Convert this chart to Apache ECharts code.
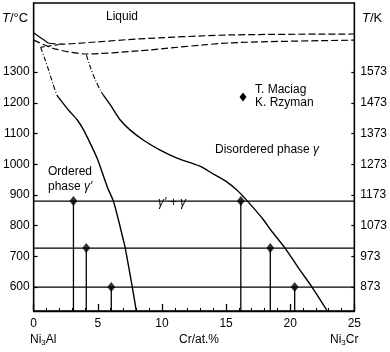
<!DOCTYPE html>
<html><head><meta charset="utf-8">
<script src="https://cdn.jsdelivr.net/npm/echarts@6/dist/echarts.min.js"></script>
<style>html,body{margin:0;padding:0;background:#fff}#c{width:390px;height:352px}</style>
</head><body><div id="c"></div>
<script>
// ---- data (°C on the left axis, K on the right axis) ----
const xTickLabels = [0, 5, 10, 15, 20, 25];
const cTicks = [600, 700, 800, 900, 1000, 1100, 1200, 1300];
const kTicks = [873, 973, 1073, 1173, 1273, 1373, 1473, 1573];
const liquidusSolid = [[0, 1428], [0.6, 1410], [1.16, 1394]];
const liquidusDashed = [[1.16, 1394], [2.17, 1391], [4.81, 1398], [8.15, 1408], [15.3, 1421], [25, 1424]];
const solidusDashed = [[0, 1404], [1.71, 1375], [4.11, 1359], [8.15, 1369], [15.3, 1395], [25, 1404]];
const crossDashed = [[0.54, 1381], [2.2, 1391]];
const leftSolvusDashed = [[0.54, 1381], [0.85, 1345], [1.16, 1307], [1.5, 1262], [1.8, 1225]];
const leftSolvusSolid = [[1.8, 1225], [2.7, 1177], [3.4, 1144], [3.9, 1111], [4.66, 1046], [5.0, 1014], [5.74, 926], [6.21, 880], [6.6, 820], [6.99, 753], [7.14, 727], [7.69, 600], [8.0, 522]];
const rightSolvusDashed = [[4.11, 1355], [4.45, 1312], [4.81, 1274], [5.2, 1240], [5.43, 1225]];
const rightSolvusSolid = [[5.43, 1225], [5.98, 1193], [6.75, 1144], [7.53, 1111], [8.54, 1079], [9.86, 1046], [11.18, 1020], [12.2, 1005], [13.0, 993], [14.13, 965], [15.0, 944], [15.84, 916], [16.6, 883], [17.9, 820], [18.5, 785], [19.6, 727], [20.6, 665], [21.7, 600], [22.9, 522]];
const hLevels = [880, 727, 600];
const orderedPts = [[3.1, 880], [4.1, 727], [6.05, 600]];
const disorderedPts = [[16.15, 880], [18.45, 727], [20.35, 600]];

const YMIN = 522, YMAX = 1525, KOFF = 273;
const FONT = "'Liberation Sans', Arial, sans-serif";
const BLACK = '#000';

const lineSeries = (data, type, width, smooth) => ({
  type: 'line', data, symbol: 'none', smooth: smooth ? 0.25 : false, silent: true,
  lineStyle: { color: BLACK, width: width || 1.3, type: type || 'solid' }, z: 3
});

const series = [
  lineSeries(liquidusSolid, 'solid', 1.2, true),
  lineSeries(liquidusDashed, [7, 3], 1.2, true),
  lineSeries(solidusDashed, [7, 3], 1.2, true),
  lineSeries(crossDashed, [4, 3], 1.1, false),
  lineSeries(leftSolvusDashed, [5, 2, 1, 2], 1.1, true),
  lineSeries(leftSolvusSolid, 'solid', 1.4, true),
  lineSeries(rightSolvusDashed, [5, 2, 1, 2], 1.1, true),
  lineSeries(rightSolvusSolid, 'solid', 1.4, true)
];
hLevels.forEach(v => series.push(lineSeries([[0, v], [25, v]], 'solid', 1.3, false)));
orderedPts.concat(disorderedPts).forEach(p => series.push(lineSeries([[p[0], p[1]], [p[0], YMIN]], 'solid', 1.3, false)));
series.push({
  type: 'scatter', data: orderedPts.concat(disorderedPts), symbol: 'diamond', symbolSize: [8, 10],
  itemStyle: { color: BLACK }, z: 5, silent: true
});

const chart = echarts.init(document.getElementById('c'), null, { renderer: 'canvas' });
chart.setOption({
  animation: false,
  backgroundColor: '#fff',
  grid: { left: 33, right: 35, top: 3, bottom: 41, show: true, borderColor: BLACK, borderWidth: 1.3 },
  xAxis: {
    type: 'value', min: 0, max: 25, interval: 5,
    axisLine: { lineStyle: { color: BLACK, width: 1.3 } },
    axisTick: { show: true, inside: true, length: 7, lineStyle: { color: BLACK, width: 1.3 } },
    minorTick: { show: true, splitNumber: 5, length: 3, lineStyle: { color: BLACK, width: 1 } },
    splitLine: { show: false },
    axisLabel: { color: BLACK, fontSize: 12, fontFamily: FONT, margin: 7,
      formatter: v => xTickLabels.includes(v) ? String(v) : '' }
  },
  yAxis: [{
    type: 'value', min: YMIN, max: YMAX, position: 'left',
    axisLine: { show: true, lineStyle: { color: BLACK, width: 1.3 } },
    axisTick: { show: true, inside: true, length: 4, customValues: cTicks, lineStyle: { color: BLACK, width: 1.2 } },
    axisLabel: { color: BLACK, fontSize: 12, fontFamily: FONT, margin: 4, customValues: cTicks, formatter: v => String(v) },
    splitLine: { show: false }
  }, {
    type: 'value', min: YMIN + KOFF, max: YMAX + KOFF, position: 'right',
    axisLine: { show: true, lineStyle: { color: BLACK, width: 1.3 } },
    axisTick: { show: true, inside: true, length: 3, customValues: kTicks, lineStyle: { color: BLACK, width: 1.2 } },
    axisLabel: { color: BLACK, fontSize: 12, fontFamily: FONT, margin: 6, customValues: kTicks, formatter: v => String(v) },
    splitLine: { show: false }
  }],
  series,
  graphic: [
    { type: 'text', x: 2, y: 18, style: { text: '{i|T}/°C', fontSize: 13, fontFamily: FONT, fill: BLACK, verticalAlign: 'middle',
      rich: { i: { fontStyle: 'italic', fontSize: 13, fontFamily: FONT } } } },
    { type: 'text', x: 362, y: 18, style: { text: '{i|T}/K', fontSize: 13, fontFamily: FONT, fill: BLACK, verticalAlign: 'middle',
      rich: { i: { fontStyle: 'italic', fontSize: 13, fontFamily: FONT } } } },
    { type: 'text', x: 122, y: 17, style: { text: 'Liquid', fontSize: 12, fontFamily: FONT, fill: BLACK, align: 'center', verticalAlign: 'middle' } },
    { type: 'text', x: 48, y: 172, style: { text: 'Ordered', fontSize: 12, fontFamily: FONT, fill: BLACK, verticalAlign: 'middle' } },
    { type: 'text', x: 48, y: 187, style: { text: 'phase {i|γ\'}', fontSize: 12, fontFamily: FONT, fill: BLACK, verticalAlign: 'middle',
      rich: { i: { fontStyle: 'italic', fontSize: 12, fontFamily: FONT } } } },
    { type: 'text', x: 215, y: 150, style: { text: 'Disordered phase {i|γ}', fontSize: 12, fontFamily: FONT, fill: BLACK, verticalAlign: 'middle',
      rich: { i: { fontStyle: 'italic', fontSize: 12, fontFamily: FONT } } } },
    { type: 'text', x: 172, y: 203, z: 10, style: { text: 'γ\' + γ', fontStyle: 'italic', fontSize: 12, fontFamily: FONT, fill: BLACK, align: 'center', verticalAlign: 'middle' } },
    { type: 'polygon', shape: { points: [[243, 92.5], [246.5, 97], [243, 101.5], [239.5, 97]] }, style: { fill: BLACK } },
    { type: 'text', x: 255, y: 90, style: { text: 'T. Maciag', fontSize: 12, fontFamily: FONT, fill: BLACK, verticalAlign: 'middle' } },
    { type: 'text', x: 255, y: 103, style: { text: 'K. Rzyman', fontSize: 12, fontFamily: FONT, fill: BLACK, verticalAlign: 'middle' } },
    { type: 'text', x: 30, y: 340, style: { text: 'Ni{s|3}Al', fontSize: 12, fontFamily: FONT, fill: BLACK, verticalAlign: 'middle',
      rich: { s: { fontSize: 8, fontFamily: FONT, verticalAlign: 'bottom', padding: [6, 0, 0, 0] } } } },
    { type: 'text', x: 199, y: 340, style: { text: 'Cr/at.%', fontSize: 12, fontFamily: FONT, fill: BLACK, align: 'center', verticalAlign: 'middle' } },
    { type: 'text', x: 330, y: 340, style: { text: 'Ni{s|3}Cr', fontSize: 12, fontFamily: FONT, fill: BLACK, verticalAlign: 'middle',
      rich: { s: { fontSize: 8, fontFamily: FONT, verticalAlign: 'bottom', padding: [6, 0, 0, 0] } } } }
  ]
});
</script></body></html>
